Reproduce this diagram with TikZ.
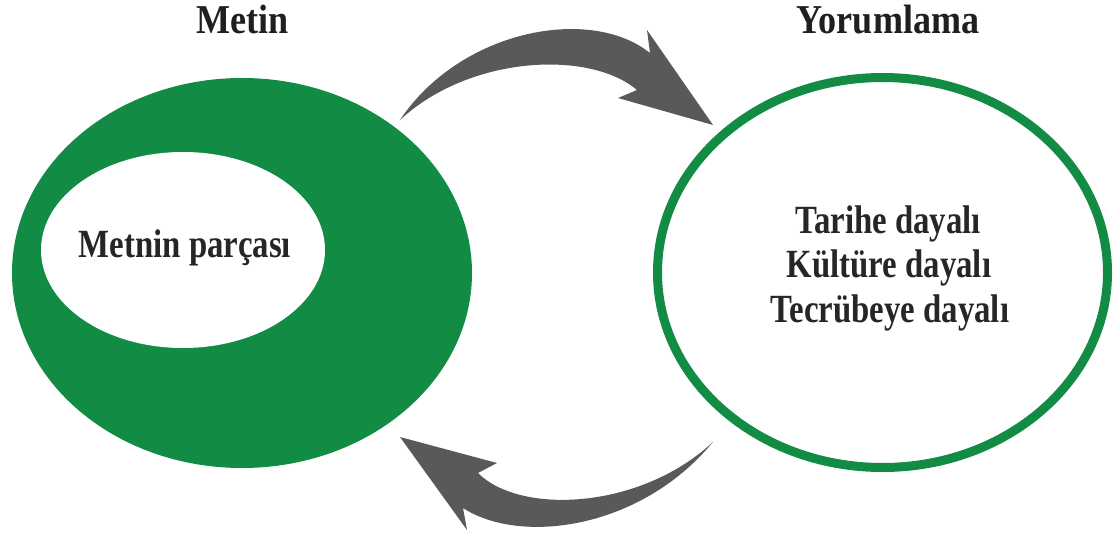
\documentclass[tikz,border=0pt]{standalone}
\usepackage{fontspec}
\setmainfont{Liberation Serif}
\newfontfamily\titlefont[FakeStretch=0.88]{Liberation Serif}
\newfontfamily\labelfont[FakeStretch=0.82]{Liberation Serif}
\usetikzlibrary{shapes.geometric}
\definecolor{dgreen}{HTML}{128C44}
\definecolor{agray}{HTML}{595959}
\begin{document}
\begin{tikzpicture}[x=1pt,y=-1pt,
  title/.style={font=\titlefont\bfseries\fontsize{41}{44}\selectfont, anchor=base, inner sep=0, text=black!88},
  label/.style={font=\labelfont\bfseries\fontsize{40}{44}\selectfont, anchor=base, inner sep=0, text=black!85},
  bigarrow/.style={fill=agray, draw=none}]
\useasboundingbox (0,0) rectangle (1113,538);
% left filled ellipse
\node[ellipse, fill=dgreen, minimum width=460, minimum height=390, inner sep=0] (metin) at (242,273) {};
\node[ellipse, fill=white, minimum width=284, minimum height=196, inner sep=0] (parca) at (183,250) {};
% right outlined ellipse
\node[ellipse, draw=dgreen, line width=9, fill=white, minimum width=450, minimum height=390, inner sep=0] (yorum) at (882.5,272.5) {};
% titles
\node[title] (t1) at (242.5,33) {Metin};
\node[title] (t2) at (888,33) {Yorumlama};
% inner texts
\node[label] (p) at (185,257) {Metnin parçası};
\node[label] (r1) at (888,233) {Tarihe dayalı};
\node[label] (r2) at (889,277) {Kültüre dayalı};
\node[label] (r3) at (890,322) {Tecrübeye dayalı};
% top arrow
\fill[bigarrow] (400,120) .. controls (460,30) and (590,5) .. (650,53)
  -- (647,30) -- (713,125) -- (618,98) -- (637,90)
  .. controls (590,50) and (470,55) .. (400,120) -- cycle;
% bottom arrow
\fill[bigarrow] (713,442) .. controls (640,530) and (520,545) .. (463,508)
  -- (467,530) -- (400,437) -- (497,463) -- (478,473)
  .. controls (520,515) and (640,510) .. (713,442) -- cycle;
\end{tikzpicture}
\end{document}
